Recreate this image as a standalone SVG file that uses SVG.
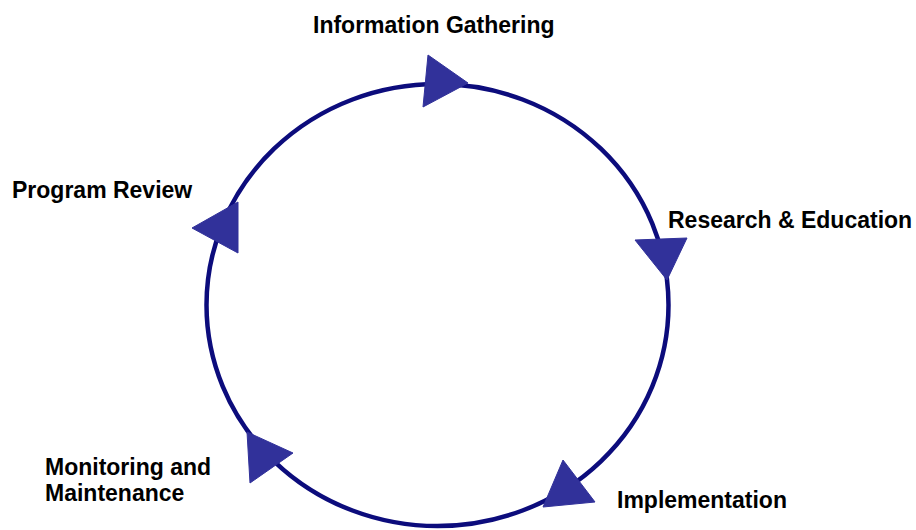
<svg xmlns="http://www.w3.org/2000/svg" width="916" height="530" viewBox="0 0 916 530">
<style>
.lbl{font-family:"Liberation Sans",Arial,sans-serif;font-weight:bold;font-size:23px;fill:#000}
.ring{fill:none;stroke:#0c0c7c;stroke-width:4.5}
.arr{fill:#31319a;stroke:#31319a;stroke-width:1;stroke-linejoin:round}
</style>
<rect width="916" height="530" fill="#fff"/>
<g id="connectors">
<ellipse class="ring" cx="437.5" cy="305" rx="231" ry="221"/>
<polygon class="arr" points="428,55 423,107 468,83"/>
<polygon class="arr" points="635,240 687,238 667,280"/>
<polygon class="arr" points="192,228 238,202 238,253"/>
<polygon class="arr" points="247,432 250,483 293,453"/>
<polygon class="arr" points="563,460 543,507 595,502"/>
</g>
<g id="information-gathering"><text class="lbl" x="313" y="33">Information Gathering</text></g>
<g id="research-education"><text class="lbl" x="668" y="228">Research &amp; Education</text></g>
<g id="implementation"><text class="lbl" x="617" y="508">Implementation</text></g>
<g id="monitoring-maintenance"><text class="lbl" x="45" y="475">Monitoring and</text><text class="lbl" x="45" y="501">Maintenance</text></g>
<g id="program-review"><text class="lbl" x="12" y="198">Program Review</text></g>
</svg>
